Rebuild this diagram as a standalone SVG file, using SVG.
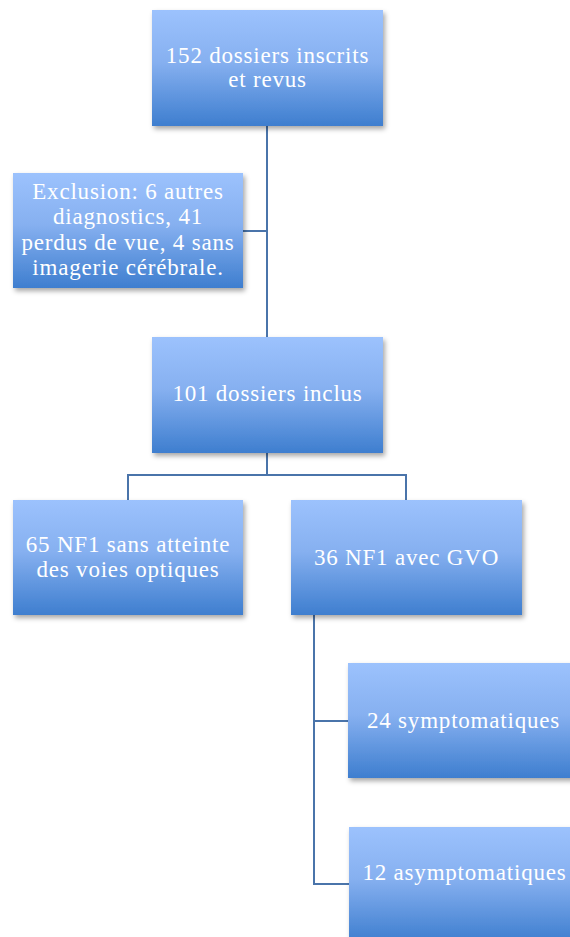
<svg xmlns="http://www.w3.org/2000/svg" width="570" height="937" viewBox="0 0 570 937">
<defs>
<linearGradient id="g" x1="0" y1="0" x2="0" y2="1">
<stop offset="0" stop-color="#9cc2fd"/>
<stop offset="0.45" stop-color="#86b0f0"/>
<stop offset="1" stop-color="#3e7ecf"/>
</linearGradient>
<filter id="sh" x="-10%" y="-10%" width="125%" height="130%">
<feDropShadow dx="2" dy="3" stdDeviation="2.5" flood-color="#000" flood-opacity="0.35"/>
</filter>
</defs>
<style>
.box{fill:url(#g);filter:url(#sh)}
.t{font-family:"Liberation Serif","DejaVu Serif",serif;font-size:23px;letter-spacing:0.8px;fill:#fff;text-anchor:middle}
.c{fill:none;stroke:#4a74aa;stroke-width:2}
</style>
<rect width="570" height="937" fill="#fff"/>
<g id="connectors">
<path class="c" d="M267 126V337M243 231H267"/>
<path class="c" d="M267 453V475M128 500V475H406V500"/>
<path class="c" d="M314 615V884H349M314 721H348"/>
</g>
<g id="n152">
<rect class="box" x="152" y="10" width="231" height="116"/>
<text class="t" x="267.5" y="63">152 dossiers inscrits</text>
<text class="t" x="267.5" y="87">et revus</text>
</g>
<g id="exclusion">
<rect class="box" x="13" y="173" width="230" height="115"/>
<text class="t" x="128" y="199">Exclusion: 6 autres</text>
<text class="t" x="128" y="224">diagnostics, 41</text>
<text class="t" x="128" y="250">perdus de vue, 4 sans</text>
<text class="t" x="128" y="275">imagerie cérébrale.</text>
</g>
<g id="n101">
<rect class="box" x="152" y="337" width="231" height="116"/>
<text class="t" x="267.5" y="401">101 dossiers inclus</text>
</g>
<g id="n65">
<rect class="box" x="13" y="500" width="230" height="115"/>
<text class="t" x="128" y="552">65 NF1 sans atteinte</text>
<text class="t" x="128" y="577">des voies optiques</text>
</g>
<g id="n36">
<rect class="box" x="291" y="500" width="231" height="115"/>
<text class="t" x="406.5" y="565">36 NF1 avec GVO</text>
</g>
<g id="n24">
<rect class="box" x="348" y="663" width="231" height="115"/>
<text class="t" x="463.5" y="728">24 symptomatiques</text>
</g>
<g id="n12">
<rect class="box" x="349" y="827" width="231" height="115"/>
<text class="t" x="464.5" y="880">12 asymptomatiques</text>
</g>
</svg>
